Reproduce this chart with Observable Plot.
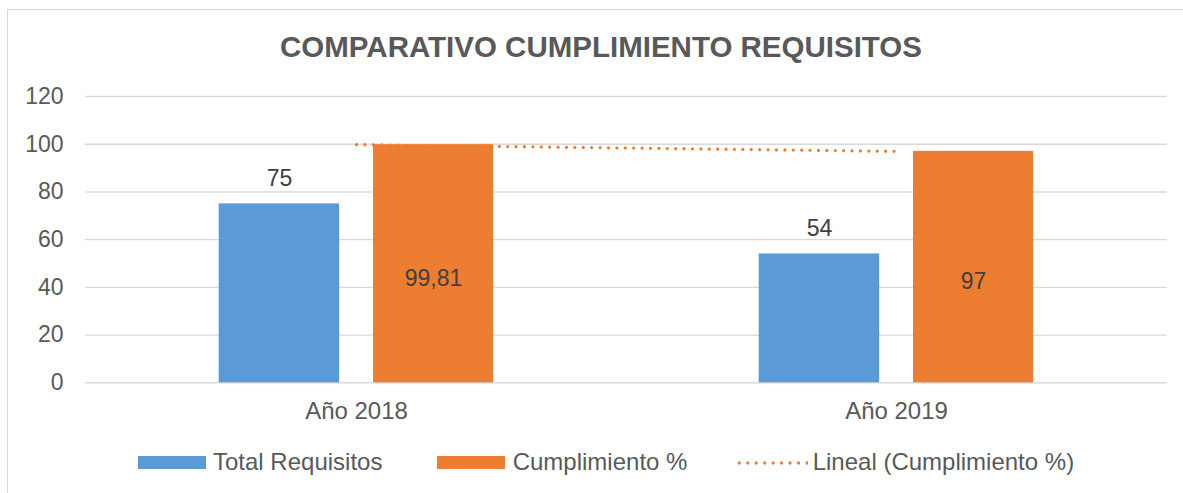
<!DOCTYPE html>
<html>
<head>
<meta charset="utf-8">
<script src="https://cdn.jsdelivr.net/npm/d3@7"></script>
<script src="https://cdn.jsdelivr.net/npm/@observablehq/plot@0.6"></script>
<style>
  html, body { margin: 0; padding: 0; background: #fff; overflow: hidden; }
  body { width: 1183px; height: 493px; position: relative; font-family: "Liberation Sans", Arial, sans-serif; }
  #frame { position: absolute; left: 7px; top: 9px; width: 1200px; height: 500px; border: 1.5px solid #d9d9d9; box-sizing: border-box; }
  #title { position: absolute; left: 0; top: 32px; width: 1202px; text-align: center; font-size: 29.5px; line-height: 29.5px; font-weight: bold; color: #595959; white-space: nowrap; }
  #chart { position: absolute; left: 0; top: 70px; }
  .lg { position: absolute; }
  .lgtext { position: absolute; top: 450px; font-size: 24px; line-height: 24px; color: #595959; white-space: nowrap; }
</style>
</head>
<body>
<div id="frame"></div>
<div id="title">COMPARATIVO CUMPLIMIENTO REQUISITOS</div>
<div id="chart"></div>
<div id="legend"></div>
<script>
const years = ["Año 2018", "Año 2019"];
const totalRequisitos = [75, 54];
const cumplimiento = [99.81, 97];
const cumplimientoLabels = ["99,81", "97"];
const yTicks = [0, 20, 40, 60, 80, 100, 120];
const seriesNames = ["Total Requisitos", "Cumplimiento %", "Lineal (Cumplimiento %)"];
const colors = ["#5B9BD5", "#ED7D31", "#ED7D31"];

const totalData = years.map((y, i) => ({year: y, value: totalRequisitos[i], label: String(totalRequisitos[i])}));
const cumplData = years.map((y, i) => ({year: y, value: cumplimiento[i], label: cumplimientoLabels[i]}));

const chart = Plot.plot({
  width: 1183,
  height: 360,
  marginLeft: 85,
  marginRight: 16.3,
  marginTop: 26,
  marginBottom: 47.7,
  style: {fontFamily: "'Liberation Sans', Arial, sans-serif", background: "transparent", overflow: "visible"},
  x: {type: "band", domain: years, padding: 0},
  y: {domain: [0, 120]},
  marks: [
    Plot.ruleY(yTicks, {stroke: "#d9d9d9", strokeWidth: 1.4}),
    Plot.barY(totalData, {x: "year", y: "value", fill: colors[0], insetLeft: 132.7, insetRight: 286.85}),
    Plot.barY(cumplData, {x: "year", y: "value", fill: colors[1], insetLeft: 287, insetRight: 132.85}),
    Plot.line(cumplData, {x: "year", y: "value", stroke: colors[2], strokeWidth: 3.3, strokeDasharray: "0 8.4", strokeLinecap: "round"}),
    Plot.text(totalData, {x: "year", y: "value", text: "label", dx: -77, dy: -25, fontSize: 23, fill: "#404040"}),
    Plot.text(cumplData, {x: "year", y: d => d.value / 2, text: "label", dx: 77, dy: 15, fontSize: 23, fill: "#404040"}),
    Plot.axisY({ticks: yTicks, tickSize: 0, tickPadding: 22, fontSize: 23, color: "#595959", label: null}),
    Plot.axisX({tickSize: 0, tickPadding: 19.4, fontSize: 24, color: "#595959", label: null})
  ]
});
document.getElementById("chart").appendChild(chart);

// Legend
const legend = document.getElementById("legend");
const items = [
  {kind: "rect", sx: 138, sw: 67.7, tx: 213},
  {kind: "rect", sx: 437.3, sw: 67.7, tx: 512.7},
  {kind: "dots", sx: 736, sw: 72, tx: 812.7}
];
items.forEach((it, i) => {
  if (it.kind === "rect") {
    const s = document.createElement("div");
    s.className = "lg";
    s.style.cssText = `left:${it.sx}px;top:456px;width:${it.sw}px;height:12.7px;background:${colors[i]};`;
    legend.appendChild(s);
  } else {
    const ns = "http://www.w3.org/2000/svg";
    const svg = document.createElementNS(ns, "svg");
    svg.setAttribute("width", it.sw);
    svg.setAttribute("height", 10);
    svg.style.cssText = `position:absolute;left:${it.sx}px;top:457.7px;`;
    const ln = document.createElementNS(ns, "line");
    ln.setAttribute("x1", 3.3); ln.setAttribute("x2", it.sw - 1);
    ln.setAttribute("y1", 5); ln.setAttribute("y2", 5);
    ln.setAttribute("stroke", colors[i]);
    ln.setAttribute("stroke-width", 3.3);
    ln.setAttribute("stroke-dasharray", "0 8.46");
    ln.setAttribute("stroke-linecap", "round");
    svg.appendChild(ln);
    legend.appendChild(svg);
  }
  const t = document.createElement("div");
  t.className = "lgtext";
  t.style.left = it.tx + "px";
  t.textContent = seriesNames[i];
  legend.appendChild(t);
});
</script>
</body>
</html>
